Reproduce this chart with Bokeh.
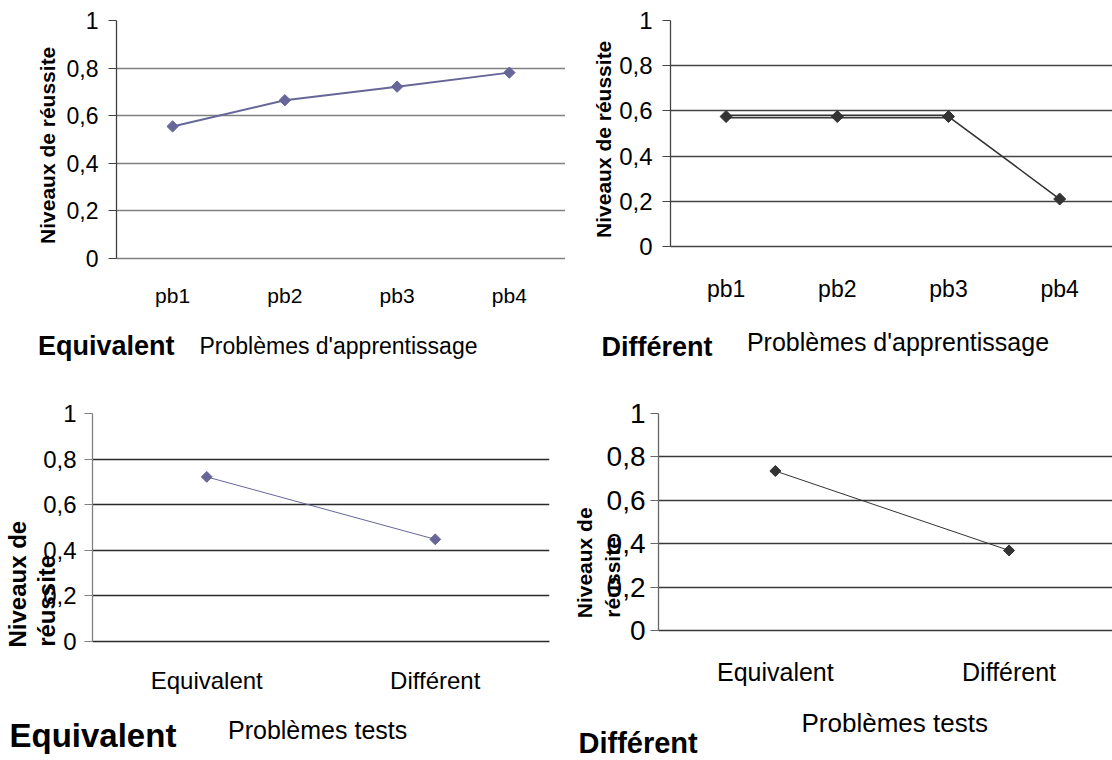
import math
from bokeh.plotting import figure
from bokeh.layouts import column, row
from bokeh.models import Range1d, FixedTicker, CustomJSTickFormatter, Label
from bokeh.embed import file_html
from bokeh.resources import INLINE

# ---------------- data ----------------
learn_cats = ["pb1", "pb2", "pb3", "pb4"]
learn_equiv = [0.555, 0.665, 0.722, 0.781]
learn_diff = [0.575, 0.575, 0.575, 0.21]

test_cats = ["Equivalent", "Différent"]
test_equiv = [0.722, 0.448]
test_diff = [0.735, 0.369]

y_ticks = [0, 0.2, 0.4, 0.6, 0.8, 1]
y_title = "Niveaux de réussite"
y_title_lines = ["Niveaux de", "réussite"]
x_title_learn = "Problèmes d'apprentissage"
x_title_test = "Problèmes tests"
group_titles = ["Equivalent", "Différent"]

FONT = "Liberation Sans"
NB = "\u00a0"  # non-breaking space used to shift the axis titles along the axis


def make_panel(cats, vals, cat_px, border, frame, color, line_w, grid_col, axis_col,
               ytick_size, xtick_size, y_standoff, x_standoff,
               ylab, ylab_size, ylab_standoff, ylab_lh=1.2):
    bl, bt, br, bb = border
    fw, fh = frame
    p = figure(frame_width=fw, frame_height=fh, min_border_left=bl, min_border_top=bt,
               min_border_right=br, min_border_bottom=bb,
               x_range=Range1d(0, fw / cat_px), y_range=Range1d(0, 1),
               output_backend="svg", toolbar_location=None, tools="")
    p.outline_line_color = None
    p.background_fill_color = "white"
    p.border_fill_color = "white"
    xs = [i + 0.5 for i in range(len(cats))]
    # y axis
    ax = p.yaxis[0]
    ax.ticker = FixedTicker(ticks=y_ticks)
    ax.formatter = CustomJSTickFormatter(code="return String(tick).replace('.', ',');")
    ax.major_label_text_font = FONT
    ax.major_label_text_font_size = f"{ytick_size}px"
    ax.major_label_text_color = "black"
    ax.major_label_standoff = y_standoff
    ax.major_tick_out = 8
    ax.major_tick_in = 0
    ax.minor_tick_line_color = None
    ax.axis_line_color = axis_col
    ax.major_tick_line_color = axis_col
    ax.axis_line_width = 1.3
    ax.axis_label = ylab
    ax.axis_label_text_font = FONT
    ax.axis_label_text_font_size = f"{ylab_size}px"
    ax.axis_label_text_font_style = "bold"
    ax.axis_label_text_color = "black"
    ax.axis_label_text_line_height = ylab_lh
    ax.axis_label_standoff = ylab_standoff
    # x axis
    bx = p.xaxis[0]
    bx.ticker = FixedTicker(ticks=xs)
    bx.formatter = CustomJSTickFormatter(args=dict(labels=cats),
                                         code="return labels[Math.floor(tick)];")
    bx.major_label_text_font = FONT
    bx.major_label_text_font_size = f"{xtick_size}px"
    bx.major_label_text_color = "black"
    bx.major_label_standoff = x_standoff
    bx.major_tick_line_color = None
    bx.minor_tick_line_color = None
    bx.axis_line_color = grid_col
    bx.axis_line_width = 1.3
    # grid
    p.xgrid.visible = False
    p.ygrid.ticker = FixedTicker(ticks=y_ticks)
    p.ygrid.grid_line_color = grid_col
    p.ygrid.grid_line_width = 1.3
    p.line(xs, vals, line_color=color, line_width=line_w)
    return p, xs


def add_marks(p, xs, vals, color, msize):
    p.scatter(xs, vals, marker="square", angle=math.pi / 4, size=msize,
              fill_color=color, line_color=color)


def strip(w, h):
    s = figure(frame_width=w, frame_height=h, min_border=0,
               x_range=Range1d(0, w), y_range=Range1d(0, h),
               x_axis_type=None, y_axis_type=None,
               output_backend="svg", toolbar_location=None, tools="")
    s.outline_line_color = None
    s.xgrid.visible = False
    s.ygrid.visible = False
    s.border_fill_color = "white"
    return s


def txt(s, x, y, text, size, bold=False):
    s.add_layout(Label(x=x, y=y + 0.36 * size, text=text, text_font=FONT,
                       text_font_size=f"{size}px",
                       text_font_style="bold" if bold else "normal",
                       text_color="black", text_align="left",
                       text_baseline="alphabetic"))


def two_lines(pads):
    return "\n".join(t + NB * n for t, n in zip(y_title_lines, pads))


# ---- panel 1 ----
p1, xs1 = make_panel(learn_cats, learn_equiv, 112.25, (116, 18, 0, 60), (449, 238),
                     "#666699", 2, "#808080", "#404040", 23, 21, 10, 19,
                     y_title + NB * 2, 21, 5)
add_marks(p1, xs1, learn_equiv, "#666699", 8)

# ---- panel 2 ----
p2, xs2 = make_panel(learn_cats, learn_diff, 111.2, (105, 20, 0, 70), (442, 226),
                     "#333333", 1.6, "#454545", "#454545", 24, 23, 10, 23,
                     y_title + NB * 2, 21, 1)
p2.line(xs2[:3], learn_diff[:3], line_color="#333333", line_width=4)
p2.line(xs2[:3], learn_diff[:3], line_color="white", line_width=0.8)
add_marks(p2, xs2, learn_diff, "#333333", 8.5)

# ---- panel 3 ----
p3, xs3 = make_panel(test_cats, test_equiv, 228.5, (88, 32, 20, 58), (457, 228),
                     "#666699", 1, "#2a2a2a", "#808080", 24, 24, 8, 19,
                     two_lines([17, 22]), 24, -20, 1.08)
add_marks(p3, xs3, test_equiv, "#666699", 7.7)

# ---- panel 4 ----
p4, xs4 = make_panel(test_cats, test_diff, 233.7, (88, 33, 0, 68), (459, 217),
                     "#333333", 1, "#383838", "#666666", 28, 25, 5, 21,
                     two_lines([14, 19]), 21, -20, 1.2)
add_marks(p4, xs4, test_diff, "#333333", 7.8)

# ---- title strips (text rows under each pair of charts) ----
s1 = strip(565, 64)
txt(s1, 37.5, 25, group_titles[0], 27, bold=True)
txt(s1, 199, 26, x_title_learn, 23)
s2 = strip(547, 64)
txt(s2, 36, 24, group_titles[1], 27, bold=True)
txt(s2, 181.4, 30, x_title_learn, 25)
s3 = strip(565, 60)
txt(s3, 9, 11.3, group_titles[0], 33, bold=True)
txt(s3, 227.5, 19.7, x_title_test, 25)
s4 = strip(547, 60)
txt(s4, 13, 5.5, group_titles[1], 29, bold=True)
txt(s4, 236, 26.3, x_title_test, 26)

layout = column(row(p1, p2, spacing=0), row(s1, s2, spacing=0),
                row(p3, p4, spacing=0), row(s3, s4, spacing=0), spacing=0)
open("out.html", "w").write(file_html(layout, INLINE))
